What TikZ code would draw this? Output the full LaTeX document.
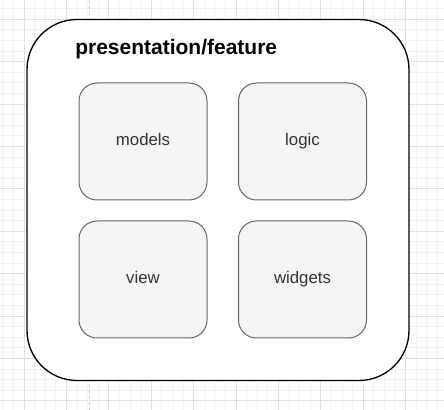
\documentclass[tikz,border=0pt]{standalone}
\usepackage{fontspec}
\setmainfont{Liberation Sans}
\usepackage{tikz}

\definecolor{gridminor}{RGB}{242,242,242}
\definecolor{gridmajor}{RGB}{224,224,224}
\definecolor{boxfill}{RGB}{245,245,245}
\definecolor{boxline}{RGB}{102,102,102}
\definecolor{boxtext}{RGB}{51,51,51}

\tikzset{
  minorgrid/.style={color=gridminor, line width=0.75pt},
  majorgrid/.style={color=gridmajor, line width=0.75pt},
  guide/.style={color={rgb, 255:red, 204; green, 204; blue, 204}, line width=0.75pt, dash pattern=on 2.25pt off 2.25pt},
  outerbox/.style={draw=black, fill=white, line width=1pt, rounded corners=37.5pt,
    minimum width=286.5pt, minimum height=270.75pt, inner sep=0pt},
  partbox/.style={draw=boxline, fill=boxfill, line width=0.75pt, rounded corners=13.5pt,
    minimum width=96pt, minimum height=87.75pt, inner sep=0pt,
    text height=0.62em, text depth=0pt,
    text=boxtext, font=\fontsize{12.6}{15}\selectfont}
}

\begin{document}
\begin{tikzpicture}[x=0.75pt,y=0.75pt,yscale=-1,xscale=1]
\useasboundingbox (0,0) rectangle (444,410);

%Grid lines
\begin{scope}
\clip (0,0) rectangle (444,410);
\foreach \i in {0,...,42} {
  \draw [minorgrid] (2.8+10.6*\i,0) -- (2.8+10.6*\i,410) ;
}
\foreach \i in {0,...,39} {
  \draw [minorgrid] (0,-1.9+10.6*\i) -- (444,-1.9+10.6*\i) ;
}
\foreach \i in {0,...,10} {
  \draw [majorgrid] (24+42.4*\i,0) -- (24+42.4*\i,410) ;
}
\foreach \i in {0,...,9} {
  \draw [majorgrid] (0,19.3+42.4*\i) -- (444,19.3+42.4*\i) ;
}
\end{scope}

%Straight Lines: guide
\coordinate (guidetop) at (89.5,0) ;
\coordinate (guidebottom) at (89.5,410) ;
\draw [guide] (guidetop) -- (guidebottom) ;

%Shape: Rounded Rect
\node [outerbox] (feature) at (218,200) {} ;

% Text Node
\node [anchor=base west, font=\fontsize{15.75}{18}\selectfont\bfseries, inner sep=0pt] (title) at (75,55) {presentation/feature} ;

%Shape: Rounded Rect
\node [partbox] (models) at (143,141.5) {models} ;
%Shape: Rounded Rect
\node [partbox] (logic) at (302.5,141.5) {logic} ;
%Shape: Rounded Rect
\node [partbox] (view) at (143,279.5) {view} ;
%Shape: Rounded Rect
\node [partbox] (widgets) at (302.5,279.5) {widgets} ;

\end{tikzpicture}
\end{document}
